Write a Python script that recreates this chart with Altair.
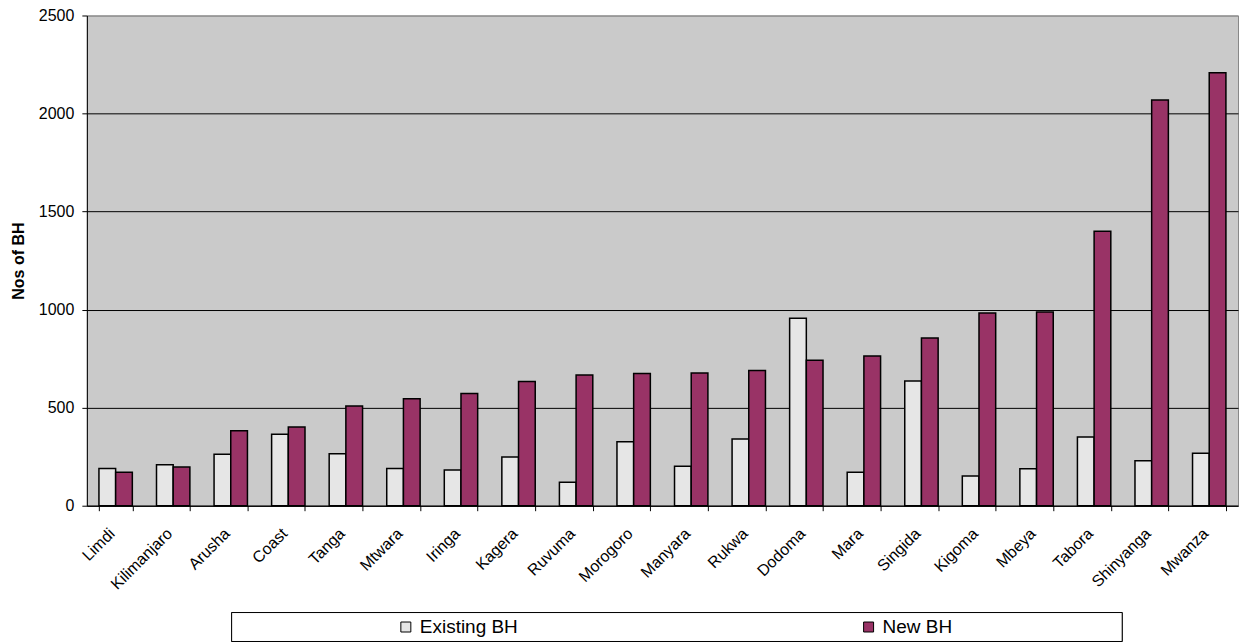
import altair as alt
import pandas as pd

# Borehole counts per region
regions = ["Limdi", "Kilimanjaro", "Arusha", "Coast", "Tanga", "Mtwara", "Iringa",
           "Kagera", "Ruvuma", "Morogoro", "Manyara", "Rukwa", "Dodoma", "Mara",
           "Singida", "Kigoma", "Mbeya", "Tabora", "Shinyanga", "Mwanza"]
existing_bh = [190, 209, 262, 364, 265, 190, 182, 249, 119, 326,
               201, 340, 956, 170, 636, 151, 188, 351, 229, 267]
new_bh = [170, 197, 382, 402, 509, 545, 572, 633, 667, 674,
          677, 689, 742, 764, 855, 983, 988, 1400, 2069, 2208]
series_names = ["Existing BH", "New BH"]
series_colors = ["#e6e6e6", "#993366"]
y_ticks = [0, 500, 1000, 1500, 2000, 2500]

rows = []
for r, e, n in zip(regions, existing_bh, new_bh):
    rows.append({"region": r, "series": series_names[0], "value": e})
    rows.append({"region": r, "series": series_names[1], "value": n})
df = pd.DataFrame(rows)

color_scale = alt.Scale(domain=series_names, range=series_colors)
FONT = "Liberation Sans"

bars = alt.Chart(df).mark_bar(stroke="black", strokeWidth=1.5).encode(
    x=alt.X("region:N", sort=regions,
            scale=alt.Scale(paddingInner=0.42, paddingOuter=0.21),
            axis=alt.Axis(title=None, tickBand="extent", tickSize=5,
                          labelAngle=315, labelAlign="right", labelBaseline="middle",
                          labelFontSize=16, labelPadding=20, labelOffset=-4,
                          labelColor="black", domainColor="black", tickColor="black")),
    xOffset=alt.XOffset("series:N", sort=series_names,
                        scale=alt.Scale(domain=series_names, paddingInner=0, paddingOuter=0)),
    y=alt.Y("value:Q", scale=alt.Scale(domain=[0, 2500], nice=False),
            axis=alt.Axis(title="Nos of BH", values=y_ticks, format="d", grid=True,
                          gridColor={"condition": {"test": "datum.value >= 2500", "value": "#888888"},
                                     "value": "#000000"},
                          gridWidth=1, tickSize=5, labelFontSize=16, labelPadding=8,
                          labelColor="black", domainColor="black", tickColor="black",
                          titleFontSize=16, titleFontWeight="bold", titleColor="black",
                          titlePadding=12)),
    color=alt.Color("series:N", scale=color_scale, legend=None),
).properties(
    width=1153, height=491,
    view=alt.ViewBackground(fill="#cacaca", stroke="#888888", strokeWidth=1),
)

# Legend strip beneath the plot
legend_df = pd.DataFrame({"series": series_names})
legend_x = alt.X("series:N", sort=series_names,
                 scale=alt.Scale(domain=series_names, range=[319.5, 783], padding=0),
                 axis=None)

legend_box = alt.Chart(legend_df).mark_rect(fill="white", stroke="black", strokeWidth=1).encode(
    x=alt.value(145), x2=alt.value(1037), y=alt.value(0), y2=alt.value(29)
)
legend_symbols = alt.Chart(legend_df).mark_square(size=100, stroke="black", strokeWidth=1, opacity=1).encode(
    x=legend_x, y=alt.value(14.5),
    color=alt.Color("series:N", scale=color_scale, legend=None),
)
legend_labels = alt.Chart(legend_df).mark_text(
    align="left", baseline="middle", dx=14, fontSize=19, font=FONT, color="black"
).encode(x=legend_x, y=alt.value(15), text="series:N")

legend = alt.layer(legend_box, legend_symbols, legend_labels).properties(
    width=1037, height=29,
    view=alt.ViewBackground(stroke=None, fill=None),
)

chart = alt.vconcat(bars, legend, spacing=107, bounds="flush").properties(
    padding={"left": 9, "top": 6, "right": 3, "bottom": 1},
).configure(
    font=FONT,
).configure_view(
    stroke=None,
)

chart.save("out.html", embed_options={"renderer": "svg", "actions": False})
